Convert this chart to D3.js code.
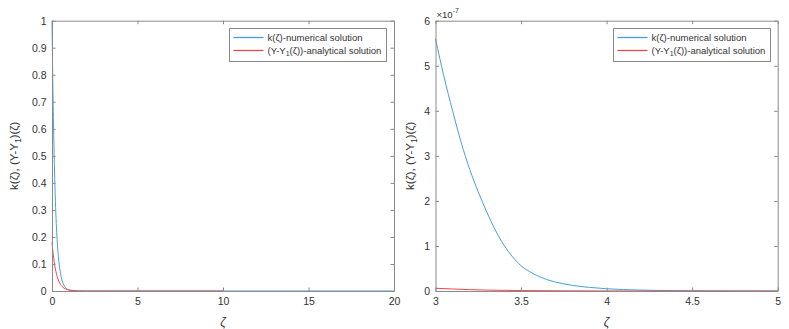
<!DOCTYPE html>
<html>
<head>
<meta charset="utf-8">
<script src="https://cdn.jsdelivr.net/npm/d3@7"></script>
<style>
  body { margin: 0; background: #fff; }
  svg { font-family: "Liberation Sans", Arial, sans-serif; }
  .frame path.domain { stroke: #8a8a8a; }
  .frame line { stroke: #8a8a8a; }
  .frame text { fill: #333; font-size: 10.5px; }
</style>
</head>
<body>
<div id="chart"></div>
<script>
// left panel: full range
const leftBlueX = [0, 0.05, 0.1, 0.15, 0.2, 0.25, 0.3, 0.4, 0.5, 0.6, 0.7, 0.8, 1.0, 1.2, 1.5, 2, 3, 5, 10, 15, 20];
const leftBlueY = [1, 0.76, 0.58, 0.44, 0.33, 0.25, 0.19, 0.11, 0.064, 0.037, 0.021, 0.012, 0.004, 0.0014, 0.0003, 0.00002, 0, 0, 0, 0, 0];
const leftRedX = [0, 0.05, 0.1, 0.15, 0.2, 0.3, 0.4, 0.5, 0.6, 0.8, 1.0, 1.5, 2, 5, 10];
const leftRedY = [0.18, 0.148, 0.121, 0.099, 0.081, 0.054, 0.036, 0.024, 0.016, 0.0073, 0.0033, 0.0004, 0, 0, 0];
const leftXTicks = [0, 5, 10, 15, 20];
const leftYTicks = [0, 0.1, 0.2, 0.3, 0.4, 0.5, 0.6, 0.7, 0.8, 0.9, 1];

// right panel: zoom on 3..5, values in units of 1e-7
const rightBlueX = [3, 3.05, 3.1, 3.15, 3.2, 3.25, 3.3, 3.35, 3.4, 3.45, 3.5, 3.55, 3.6, 3.7, 3.8, 3.9, 4.0, 4.2, 4.4, 4.6, 4.8, 5.0];
const rightBlueY = [5.6, 4.75, 4.0, 3.3, 2.7, 2.2, 1.75, 1.35, 1.02, 0.76, 0.56, 0.43, 0.33, 0.2, 0.125, 0.08, 0.05, 0.02, 0.008, 0.003, 0.001, 0.0003];
const rightRedX = [3, 3.1, 3.2, 3.3, 3.5, 3.75, 4, 4.5, 5];
const rightRedY = [0.06, 0.045, 0.03, 0.02, 0.01, 0.004, 0.001, 0, 0];
const rightXTicks = [3, 3.5, 4, 4.5, 5];
const rightYTicks = [0, 1, 2, 3, 4, 5, 6];

const seriesColors = {k: "#4a9fd8", y: "#f0474b"};

const svg = d3.select("#chart").append("svg")
    .attr("width", 789)
    .attr("height", 329);

function drawPanel(p) {
    let x = d3.scaleLinear().domain(p.xDomain).range([p.left, p.right]);
    let y = d3.scaleLinear().domain(p.yDomain).range([p.bottom, p.top]);
    let g = svg.append("g");

    // curves, blue first then red on top
    let line = d3.line().x(d => x(d[0])).y(d => y(d[1])).curve(d3.curveMonotoneX);
    g.append("path").datum(d3.zip(p.blueX, p.blueY))
        .attr("d", line).attr("fill", "none").style("stroke", seriesColors.k).attr("stroke-width", 1);
    g.append("path").datum(d3.zip(p.redX, p.redY))
        .attr("d", line).attr("fill", "none").style("stroke", seriesColors.y).attr("stroke-width", 1);

    // box with inward ticks
    g.append("g").attr("class", "frame").attr("transform", `translate(0,${p.bottom})`)
        .call(d3.axisBottom(x).tickValues(p.xTicks).tickSize(-3.5).tickSizeOuter(0).tickPadding(7).tickFormat(d3.format("")));
    g.append("g").attr("class", "frame").attr("transform", `translate(0,${p.top})`)
        .call(d3.axisTop(x).tickValues(p.xTicks).tickSize(-3.5).tickSizeOuter(0).tickFormat(""));
    g.append("g").attr("class", "frame").attr("transform", `translate(${p.left},0)`)
        .call(d3.axisLeft(y).tickValues(p.yTicks).tickSize(-3.5).tickSizeOuter(0).tickPadding(5.5).tickFormat(d3.format("")));
    g.append("g").attr("class", "frame").attr("transform", `translate(${p.right},0)`)
        .call(d3.axisRight(y).tickValues(p.yTicks).tickSize(-3.5).tickSizeOuter(0).tickFormat(""));

    // axis labels
    g.append("text")
        .attr("x", (p.left + p.right) / 2).attr("y", 326)
        .attr("text-anchor", "middle").attr("font-size", 12).attr("font-style", "italic").attr("fill", "#333")
        .text("ζ");
    let yl = g.append("text")
        .attr("transform", `translate(${p.yLabelX},${(p.top + p.bottom) / 2}) rotate(-90)`)
        .attr("text-anchor", "middle").attr("font-size", 11.5).attr("fill", "#333");
    yl.append("tspan").text("k(ζ), (Y-Y");
    yl.append("tspan").attr("dy", 3).attr("font-size", 8.5).text("1");
    yl.append("tspan").attr("dy", -3).text(")(ζ)");

    if (p.exponent) {
        let ex = g.append("text").attr("x", p.left + 1).attr("y", 18).attr("fill", "#333").attr("font-size", 9.5);
        ex.append("tspan").text("×10");
        ex.append("tspan").attr("dy", -5).attr("font-size", 7).text(p.exponent);
    }

    // legend
    let lw = 157, lh = 33;
    let lx = Math.round(p.right - 8 - lw) + 0.5, ly = 28.5;
    let lg = g.append("g").attr("transform", `translate(${lx},${ly})`);
    lg.append("rect").attr("width", lw).attr("height", lh)
        .attr("fill", "#fff").style("stroke", "#8a8a8a").attr("stroke-width", 1);
    lg.append("path").attr("d", "M4,9H34").attr("fill", "none")
        .style("stroke", seriesColors.k).attr("stroke-width", 1.3);
    lg.append("path").attr("d", "M4,22H34").attr("fill", "none")
        .style("stroke", seriesColors.y).attr("stroke-width", 1.3);
    lg.append("text").attr("x", 38).attr("y", 9).attr("dy", "0.35em")
        .attr("font-size", 9.5).attr("fill", "#333").text("k(ζ)-numerical solution");
    let t2 = lg.append("text").attr("x", 38).attr("y", 22).attr("dy", "0.35em")
        .attr("font-size", 9.5).attr("fill", "#333");
    t2.append("tspan").text("(Y-Y");
    t2.append("tspan").attr("dy", 2.5).attr("font-size", 7).text("1");
    t2.append("tspan").attr("dy", -2.5).text("(ζ))-analytical solution");
}

drawPanel({
    left: 52, right: 394, top: 20.7, bottom: 291,
    xDomain: [0, 20], yDomain: [0, 1],
    xTicks: leftXTicks, yTicks: leftYTicks,
    blueX: leftBlueX, blueY: leftBlueY, redX: leftRedX, redY: leftRedY,
    yLabelX: 18
});
drawPanel({
    left: 435.5, right: 777.7, top: 20.7, bottom: 291,
    xDomain: [3, 5], yDomain: [0, 6],
    xTicks: rightXTicks, yTicks: rightYTicks,
    blueX: rightBlueX, blueY: rightBlueY, redX: rightRedX, redY: rightRedY,
    yLabelX: 414, exponent: "-7"
});
</script>
</body>
</html>
